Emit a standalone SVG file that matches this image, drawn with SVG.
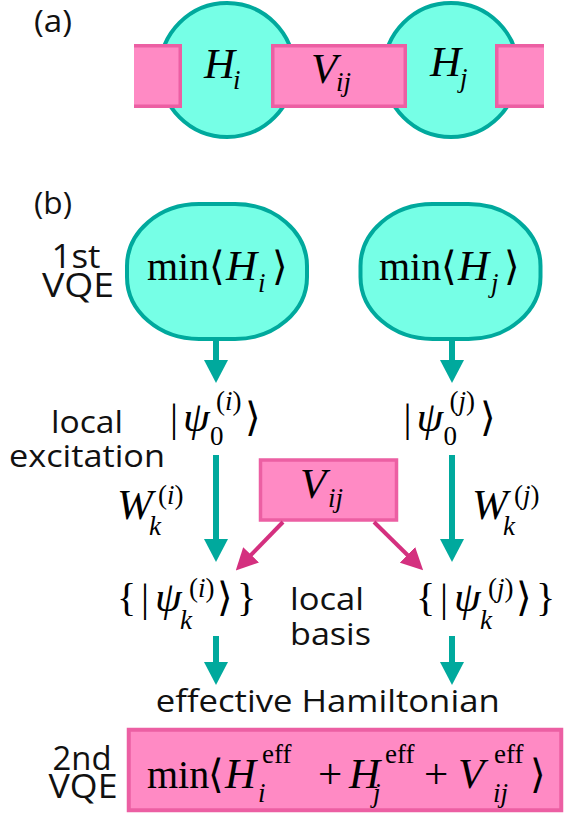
<svg xmlns="http://www.w3.org/2000/svg" width="565" height="819" viewBox="0 0 565 819">
<defs>
<style>
.teal{fill:#76FFE6;stroke:#00A99D;stroke-width:4}
.pink{fill:#FF8AC4;stroke:#EC5FA3;stroke-width:3.5}
.pf{fill:#FF8AC4;stroke:none}
.pe{fill:none;stroke:#EC5FA3;stroke-width:3.5}
.m{font-family:"Liberation Serif","DejaVu Serif",serif;font-size:40px;fill:#000}
.i{font-style:italic;font-size:43px}
.s{font-size:27px}
.lab{font-family:"Open Sans","Liberation Sans",sans-serif;font-size:31px;fill:#111}
.big{font-size:33px}
.tl{stroke:#00A99D;stroke-width:6;fill:none}
.pl{stroke:#D4307F;stroke-width:4;fill:none}
</style>
<marker id="ta" markerUnits="userSpaceOnUse" viewBox="0 0 23 24" refX="5" refY="12" markerWidth="23" markerHeight="24" orient="auto">
<path d="M0,0 L23,12 L0,24 z" fill="#00A99D"/>
</marker>
<marker id="pa" markerUnits="userSpaceOnUse" viewBox="0 0 22 22" refX="4" refY="11" markerWidth="22" markerHeight="22" orient="auto">
<path d="M0,0 L22,11 L0,22 z" fill="#D4307F"/>
</marker>
</defs>

<!-- (a) -->
<text class="lab" x="34" y="32" font-size="28" textLength="38" lengthAdjust="spacingAndGlyphs">(a)</text>
<g id="a-Hi">
<circle class="teal" cx="227" cy="70" r="67"/>
</g>
<g id="a-Hj">
<circle class="teal" cx="451" cy="70" r="67"/>
</g>
<g id="a-left">
<rect class="pf" x="134" y="45.75" width="46.25" height="60.5"/>
<path class="pe" d="M134,45.75 H180.25 V106.25 H134"/>
</g>
<g id="a-Vij">
<rect class="pink" x="272.75" y="45.75" width="132.5" height="60.5"/>
</g>
<g id="a-right">
<rect class="pf" x="496.75" y="45.75" width="47.25" height="60.5"/>
<path class="pe" d="M544,45.75 H496.75 V106.25 H544"/>
</g>
<text class="m"><tspan class="i" x="204" y="78">H</tspan><tspan class="i s" x="233" y="89">i</tspan></text>
<text class="m"><tspan class="i" x="311" y="83">V</tspan><tspan class="i s" x="336" y="91">ij</tspan></text>
<text class="m"><tspan class="i" x="430" y="76">H</tspan><tspan class="i s" x="460" y="87">j</tspan></text>

<!-- (b) -->
<text class="lab" x="34" y="214" font-size="28" textLength="38" lengthAdjust="spacingAndGlyphs">(b)</text>
<text class="lab big" x="76" y="268" text-anchor="middle" textLength="49" lengthAdjust="spacingAndGlyphs">1st</text>
<text class="lab big" x="78" y="297" text-anchor="middle" textLength="72" lengthAdjust="spacingAndGlyphs">VQE</text>

<g id="b-minHi">
<rect class="teal" x="127" y="204" width="180" height="135" rx="72" ry="62"/>
<text class="m"><tspan x="147" y="280">min</tspan><tspan x="209" y="280">⟨</tspan><tspan class="i" x="226" y="280">H</tspan><tspan class="i s" x="258" y="292">i</tspan><tspan x="272" y="280">⟩</tspan></text>
</g>
<g id="b-minHj">
<rect class="teal" x="360.5" y="204" width="180" height="135" rx="72" ry="62"/>
<text class="m"><tspan x="379" y="280">min</tspan><tspan x="441" y="280">⟨</tspan><tspan class="i" x="458" y="280">H</tspan><tspan class="i s" x="491" y="292">j</tspan><tspan x="504" y="280">⟩</tspan></text>
</g>

<g id="b-psi0i">
<text class="m"><tspan x="170" y="431">|</tspan><tspan class="i" x="183" y="431" font-size="45">ψ</tspan><tspan class="s" x="216" y="410">(<tspan class="i s">i</tspan>)</tspan><tspan class="s" x="210" y="445">0</tspan><tspan x="245" y="431">⟩</tspan></text>
</g>
<g id="b-psi0j">
<text class="m"><tspan x="403.5" y="431">|</tspan><tspan class="i" x="416.5" y="431" font-size="45">ψ</tspan><tspan class="s" x="449.5" y="410">(<tspan class="i s">j</tspan>)</tspan><tspan class="s" x="443.5" y="445">0</tspan><tspan x="480" y="431">⟩</tspan></text>
</g>

<text class="lab" x="87" y="433" text-anchor="middle" textLength="72" lengthAdjust="spacingAndGlyphs">local</text>
<text class="lab" x="87" y="466.5" text-anchor="middle" textLength="156" lengthAdjust="spacingAndGlyphs">excitation</text>

<g id="b-Wki">
<text class="m"><tspan class="i" x="117" y="519">W</tspan><tspan class="s" x="158" y="504">(<tspan class="i s">i</tspan>)</tspan><tspan class="i s" x="149" y="535">k</tspan></text>
</g>
<g id="b-Wkj">
<text class="m"><tspan class="i" x="472" y="519">W</tspan><tspan class="s" x="514" y="504">(<tspan class="i s">j</tspan>)</tspan><tspan class="i s" x="503" y="535">k</tspan></text>
</g>

<g id="b-Vij">
<rect class="pink" x="260.5" y="460" width="136" height="60"/>
<text class="m"><tspan class="i" x="300" y="498">V</tspan><tspan class="i s" x="328" y="507">ij</tspan></text>
</g>

<g id="b-psiki">
<text class="m"><tspan x="117" y="611">{</tspan><tspan x="141" y="611">|</tspan><tspan class="i" x="155" y="611" font-size="45">ψ</tspan><tspan class="s" x="189" y="597">(<tspan class="i s">i</tspan>)</tspan><tspan class="i s" x="180" y="629">k</tspan><tspan x="217" y="611">⟩</tspan><tspan x="237" y="611">}</tspan></text>
</g>
<g id="b-psikj">
<text class="m"><tspan x="416" y="611">{</tspan><tspan x="440" y="611">|</tspan><tspan class="i" x="454" y="611" font-size="45">ψ</tspan><tspan class="s" x="488" y="597">(<tspan class="i s">j</tspan>)</tspan><tspan class="i s" x="480" y="629">k</tspan><tspan x="516" y="611">⟩</tspan><tspan x="536" y="611">}</tspan></text>
</g>

<text class="lab" x="327" y="610" text-anchor="middle" textLength="74" lengthAdjust="spacingAndGlyphs">local</text>
<text class="lab" x="330.5" y="645" text-anchor="middle" textLength="81" lengthAdjust="spacingAndGlyphs">basis</text>

<text class="lab" x="155.7" y="711.7" textLength="344" lengthAdjust="spacingAndGlyphs">effective Hamiltonian</text>

<text class="lab big" x="82" y="770" text-anchor="middle" textLength="59" lengthAdjust="spacingAndGlyphs">2nd</text>
<text class="lab big" x="83" y="798" text-anchor="middle" textLength="69" lengthAdjust="spacingAndGlyphs">VQE</text>

<g id="b-2nd">
<rect class="pink" x="128.75" y="729.75" width="432.5" height="80.5" style="stroke-width:4"/>
<text class="m"><tspan x="147" y="788">min</tspan><tspan x="208" y="788">⟨</tspan><tspan class="i" x="225" y="788">H</tspan><tspan class="i s" x="258" y="802">i</tspan><tspan class="s" x="262" y="763">eff</tspan><tspan x="318" y="788" font-size="43">+</tspan><tspan class="i" x="349" y="788">H</tspan><tspan class="i s" x="373" y="802">j</tspan><tspan class="s" x="385" y="763">eff</tspan><tspan x="424" y="788" font-size="43">+</tspan><tspan class="i" x="458" y="788">V</tspan><tspan class="i s" x="493" y="802">ij</tspan><tspan class="s" x="494" y="763">eff</tspan><tspan x="530" y="788">⟩</tspan></text>
</g>

<g id="connectors">
<line class="tl" x1="216" y1="339" x2="216" y2="365" marker-end="url(#ta)"/>
<line class="tl" x1="452" y1="339" x2="452" y2="365" marker-end="url(#ta)"/>
<line class="tl" x1="216" y1="455" x2="216" y2="544" marker-end="url(#ta)"/>
<line class="tl" x1="452" y1="455" x2="452" y2="544" marker-end="url(#ta)"/>
<line class="tl" x1="216" y1="636" x2="216" y2="667" marker-end="url(#ta)"/>
<line class="tl" x1="452" y1="636" x2="452" y2="667" marker-end="url(#ta)"/>
<line class="pl" x1="283" y1="522" x2="248.3" y2="557.7" marker-end="url(#pa)"/>
<line class="pl" x1="374" y1="522" x2="410.3" y2="557.7" marker-end="url(#pa)"/>
</g>
</svg>
